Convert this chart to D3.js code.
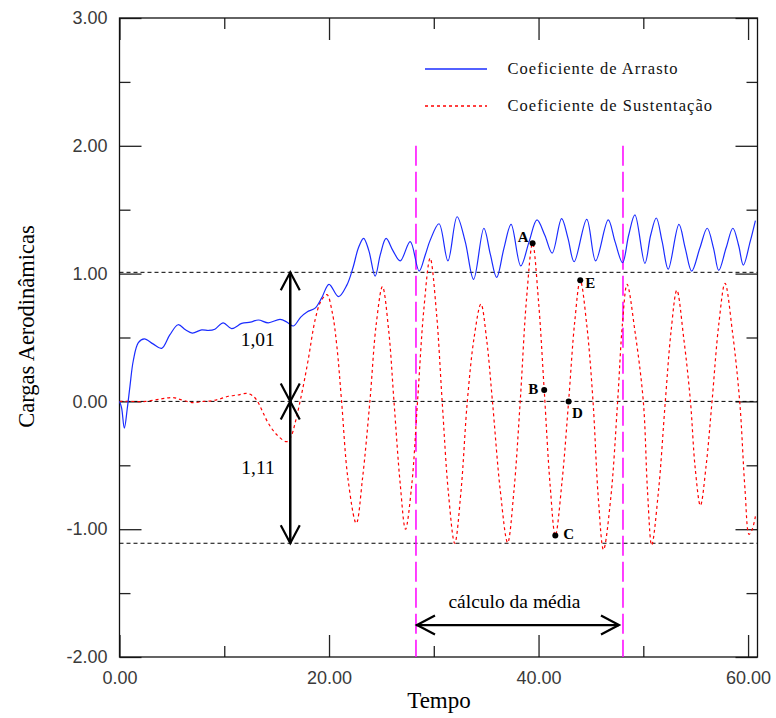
<!DOCTYPE html>
<html>
<head>
<meta charset="utf-8">
<script src="https://cdn.jsdelivr.net/npm/d3@7"></script>
<style>
  html, body { margin: 0; padding: 0; background: #fff; }
  svg { display: block; }
</style>
</head>
<body>
<svg id="chart" width="776" height="718"></svg>
<script>
// ---------- DATA ----------
const dragTime = [0, 0.2, 0.46, 0.75, 1.0, 1.32, 1.8, 2.37, 3.2, 4.03, 4.8, 5.6, 6.3, 6.95, 7.85, 8.5, 9.1, 9.9, 10.7, 11.67, 12.5, 13.26, 14.2, 15.33, 16.0, 16.6, 17.3, 17.9, 18.67, 19.3, 20.0, 20.9, 21.7, 22.3, 22.8, 23.3, 23.8, 24.4, 24.9, 25.45, 26.1, 26.8, 27.75, 28.6, 29.2, 29.65, 30.5, 31.35, 32.22, 33.0, 33.8, 34.78, 35.4, 36.0, 36.7, 37.38, 38.3, 39.1, 39.85, 40.6, 41.3, 42.2, 42.8, 43.4, 44.6, 45.45, 46.65, 47.3, 48.02, 48.6, 49.2, 50.15, 50.7, 51.24, 51.8, 52.38, 53.4, 54.0, 54.62, 55.4, 56.1, 56.7, 57.2, 57.9, 58.55, 59.1, 59.55, 60.2, 60.7];
const dragValue = [0, -0.05, -0.21, -0.05, 0.12, 0.32, 0.46, 0.49, 0.45, 0.415, 0.52, 0.60, 0.56, 0.535, 0.56, 0.555, 0.565, 0.615, 0.57, 0.61, 0.62, 0.637, 0.615, 0.642, 0.62, 0.59, 0.66, 0.70, 0.73, 0.81, 0.916, 0.82, 0.91, 1.05, 1.20, 1.276, 1.18, 0.98, 1.15, 1.275, 1.18, 1.10, 1.25, 1.02, 1.15, 1.26, 1.39, 1.10, 1.445, 1.25, 0.955, 1.355, 1.15, 0.97, 1.20, 1.385, 1.06, 1.25, 1.42, 1.30, 1.16, 1.43, 1.28, 1.093, 1.425, 1.10, 1.42, 1.25, 1.085, 1.30, 1.46, 1.08, 1.30, 1.435, 1.25, 1.035, 1.385, 1.20, 1.02, 1.20, 1.355, 1.20, 1.025, 1.20, 1.355, 1.22, 1.067, 1.25, 1.415];

const liftTime = [0, 1.0, 2.5, 4.0, 5.1, 6.0, 7.05, 8.0, 8.8, 9.6, 10.4, 11.3, 12.15, 12.7, 13.1, 13.6, 14.2, 15.0, 15.97, 16.4, 16.76, 17.4, 18.0, 18.67, 19.2, 19.8, 20.3, 20.75, 21.2, 21.8, 22.6, 23.2, 23.9, 24.5, 25.1, 25.7, 26.2, 26.8, 27.3, 27.9, 28.45, 29.05, 29.65, 30.25, 30.8, 31.4, 32.0, 32.6, 33.2, 33.85, 34.5, 35.05, 35.6, 36.35, 37.05, 37.65, 38.25, 38.85, 39.43, 40.0, 40.54, 41.1, 41.6, 42.25, 42.87, 43.45, 43.98, 44.6, 45.2, 45.7, 46.2, 46.9, 47.55, 48.0, 48.45, 49.2, 50.0, 50.4, 50.8, 51.45, 52.1, 52.65, 53.2, 53.85, 54.5, 54.95, 55.45, 56.0, 56.56, 57.2, 57.8, 58.5, 59.2, 59.7, 60.1, 60.4, 60.7];
const liftValue = [0, 0.0, 0.0, 0.02, 0.03, 0.01, -0.01, 0.0, 0.005, 0.02, 0.04, 0.05, 0.063, 0.045, 0.01, -0.07, -0.17, -0.26, -0.315, -0.27, -0.17, 0.063, 0.32, 0.637, 0.78, 0.835, 0.70, 0.43, 0.0, -0.60, -0.954, -0.60, 0.0, 0.60, 0.898, 0.55, 0.0, -0.65, -1.0, -0.65, 0.0, 0.72, 1.12, 0.70, 0.0, -0.72, -1.11, -0.70, 0.0, 0.50, 0.762, 0.48, 0.0, -0.70, -1.105, -0.70, 0.0, 0.80, 1.237, 0.78, 0.089, -0.65, -1.05, -0.62, 0.0, 0.62, 0.947, 0.60, 0.0, -0.75, -1.16, -0.75, 0.0, 0.60, 0.916, 0.55, 0.0, -0.70, -1.125, -0.70, 0.0, 0.55, 0.87, 0.50, 0.0, -0.52, -0.815, -0.50, 0.0, 0.60, 0.924, 0.55, 0.0, -0.68, -1.04, -1.0, -0.9];

const xMajorTicks = [0, 20, 40, 60];
const xMinorTicks = [10, 30, 50];
const yMajorTicks = [-2, -1, 0, 1, 2, 3];
const yMinorTicks = [-1.5, -0.5, 0.5, 1.5, 2.5];

const seriesNames = ["Coeficiente de Arrasto", "Coeficiente de Sustentação"];
const refLevels = [1.01, 0, -1.11];
const amplitudeLabels = ["1,01", "1,11"];
const amplitudeTime = 16.3;
const meanWindow = [28.3, 48.06];
const meanLabel = "cálculo da média";
const meanArrowLevel = -1.75;
const markPoints = [
  {name: "A", t: 39.43, v: 1.237},
  {name: "B", t: 40.54, v: 0.089},
  {name: "C", t: 41.6, v: -1.05},
  {name: "D", t: 42.87, v: 0.0},
  {name: "E", t: 43.98, v: 0.947}
];
const xTitle = "Tempo";
const yTitle = "Cargas Aerodinâmicas";

// ---------- SCALES ----------
const L = 119.5, R = 757.5, T = 18, B = 657;
const x = d3.scaleLinear().domain([0, 60.9]).range([L, R]);
const y = d3.scaleLinear().domain([-2, 3]).range([B, T]);

const svg = d3.select("#chart");
const fmt = d => d.toFixed(2);
const tickFont = "'Liberation Sans', Arial, sans-serif";
const serif = "'Liberation Serif', 'Times New Roman', serif";

// ---------- AXES ----------
function styleAxis(g) {
  g.select(".domain").remove();
  g.selectAll(".tick line").attr("stroke", "#222").attr("stroke-width", 1.3);
  g.selectAll(".tick text").attr("fill", "#3a3a3a").style("font-family", tickFont).style("font-size", "18px");
}
svg.append("g").attr("transform", `translate(0,${B})`)
  .call(d3.axisBottom(x).tickValues(xMajorTicks).tickSize(-22).tickPadding(14).tickFormat(fmt)).call(styleAxis);
svg.append("g").attr("transform", `translate(0,${B})`)
  .call(d3.axisBottom(x).tickValues(xMinorTicks).tickSize(-11).tickFormat("")).call(styleAxis);
svg.append("g").attr("transform", `translate(0,${T})`)
  .call(d3.axisTop(x).tickValues(xMajorTicks).tickSize(-22).tickFormat("")).call(styleAxis);
svg.append("g").attr("transform", `translate(0,${T})`)
  .call(d3.axisTop(x).tickValues(xMinorTicks).tickSize(-11).tickFormat("")).call(styleAxis);
svg.append("g").attr("transform", `translate(${L},0)`)
  .call(d3.axisLeft(y).tickValues(yMajorTicks).tickSize(-22).tickPadding(12).tickFormat(fmt)).call(styleAxis);
svg.append("g").attr("transform", `translate(${L},0)`)
  .call(d3.axisLeft(y).tickValues(yMinorTicks).tickSize(-11).tickFormat("")).call(styleAxis);
svg.append("g").attr("transform", `translate(${R},0)`)
  .call(d3.axisRight(y).tickValues(yMajorTicks).tickSize(-22).tickFormat("")).call(styleAxis);
svg.append("g").attr("transform", `translate(${R},0)`)
  .call(d3.axisRight(y).tickValues(yMinorTicks).tickSize(-11).tickFormat("")).call(styleAxis);

svg.append("rect").attr("x", L).attr("y", T).attr("width", R - L).attr("height", B - T)
  .attr("fill", "none").attr("stroke", "#111").attr("stroke-width", 1.3);

// ---------- REFERENCE LINES ----------
svg.append("g").selectAll("line").data(refLevels).join("line")
  .attr("x1", L).attr("x2", R).attr("y1", d => y(d)).attr("y2", d => y(d))
  .attr("stroke", "#000").attr("stroke-width", 1).attr("stroke-dasharray", "4,3");

svg.append("g").selectAll("line").data(meanWindow).join("line")
  .attr("x1", d => x(d)).attr("x2", d => x(d)).attr("y1", y(2)).attr("y2", B)
  .attr("stroke", "#ff00ff").attr("stroke-width", 1.5).attr("stroke-dasharray", "20,6");

// ---------- SERIES ----------
const line = d3.line().x(d => x(d[0])).y(d => y(d[1])).curve(d3.curveCatmullRom.alpha(0.5));
const liftData = liftTime.map((t, i) => [t, liftValue[i]]);
const dragData = dragTime.map((t, i) => [t, dragValue[i]]);

svg.append("path").datum(liftData).attr("d", line)
  .attr("fill", "none").attr("stroke", "#ff0000").attr("stroke-width", 1.2).attr("stroke-dasharray", "3,3");
svg.append("path").datum(dragData).attr("d", line)
  .attr("fill", "none").attr("stroke", "#1a2cff").attr("stroke-width", 1.2);

// ---------- LEGEND ----------
const legendRows = [
  {name: seriesNames[0], color: "#1a2cff", dash: null, ly: 69, ty: 74, len: 170},
  {name: seriesNames[1], color: "#ff0000", dash: "3,3", ly: 106, ty: 110.5, len: 204.5}
];
const lg = svg.append("g");
legendRows.forEach(r => {
  lg.append("line").attr("x1", 425).attr("x2", 487).attr("y1", r.ly).attr("y2", r.ly)
    .attr("stroke", r.color).attr("stroke-width", 1.3).attr("stroke-dasharray", r.dash);
  lg.append("text").attr("x", 507.5).attr("y", r.ty).text(r.name)
    .attr("textLength", r.len).attr("lengthAdjust", "spacing")
    .style("font-family", serif).style("font-size", "16.5px").attr("fill", "#111");
});

// ---------- ANNOTATIONS ----------
function chevron(g, tipX, tipY, dir) {
  const Lh = 18, W = 9.5;
  let p;
  if (dir === "up") p = [[tipX - W, tipY + Lh], [tipX, tipY], [tipX + W, tipY + Lh]];
  if (dir === "down") p = [[tipX - W, tipY - Lh], [tipX, tipY], [tipX + W, tipY - Lh]];
  if (dir === "left") p = [[tipX + Lh, tipY - W], [tipX, tipY], [tipX + Lh, tipY + W]];
  if (dir === "right") p = [[tipX - Lh, tipY - W], [tipX, tipY], [tipX - Lh, tipY + W]];
  g.append("path").attr("d", d3.line()(p)).attr("fill", "none").attr("stroke", "#000").attr("stroke-width", 2.2);
}
const ag = svg.append("g");
const ax = x(amplitudeTime);
ag.append("line").attr("x1", ax).attr("x2", ax).attr("y1", y(refLevels[0])).attr("y2", y(refLevels[2]))
  .attr("stroke", "#000").attr("stroke-width", 2.5);
chevron(ag, ax, y(refLevels[0]), "up");
chevron(ag, ax, y(refLevels[1]), "down");
chevron(ag, ax, y(refLevels[1]), "up");
chevron(ag, ax, y(refLevels[2]), "down");
ag.append("text").attr("x", ax - 15.5).attr("y", 346).attr("text-anchor", "end").text(amplitudeLabels[0])
  .style("font-family", serif).style("font-size", "19.5px").attr("fill", "#000");
ag.append("text").attr("x", ax - 15.5).attr("y", 474).attr("text-anchor", "end").text(amplitudeLabels[1])
  .style("font-family", serif).style("font-size", "19.5px").attr("fill", "#000");

const my = y(meanArrowLevel);
ag.append("line").attr("x1", x(meanWindow[0])).attr("x2", x(meanWindow[1]) - 4).attr("y1", my).attr("y2", my)
  .attr("stroke", "#000").attr("stroke-width", 2.2);
chevron(ag, x(meanWindow[0]) + 1, my, "left");
chevron(ag, x(meanWindow[1]) - 4, my, "right");
ag.append("text").attr("x", (x(meanWindow[0]) + x(meanWindow[1])) / 2 - 5).attr("y", my - 17)
  .attr("text-anchor", "middle").text(meanLabel)
  .style("font-family", serif).style("font-size", "19.5px").attr("fill", "#000");

// points
const labelOffsets = {A: [-4, -1, "end"], B: [-6, 3.5, "end"], C: [8, 3.5, "start"], D: [3.5, 17, "start"], E: [5, 8, "start"]};
const pg = svg.append("g");
pg.selectAll("circle").data(markPoints).join("circle")
  .attr("cx", d => x(d.t)).attr("cy", d => y(d.v)).attr("r", 3).attr("fill", "#000");
pg.selectAll("text").data(markPoints).join("text")
  .attr("x", d => x(d.t) + labelOffsets[d.name][0]).attr("y", d => y(d.v) + labelOffsets[d.name][1])
  .attr("text-anchor", d => labelOffsets[d.name][2]).text(d => d.name)
  .style("font-family", serif).style("font-size", "15px").style("font-weight", "bold").attr("fill", "#000");

// ---------- TITLES ----------
svg.append("text").attr("x", 439).attr("y", 708).attr("text-anchor", "middle").text(xTitle)
  .style("font-family", serif).style("font-size", "23px").attr("fill", "#000");
svg.append("text").attr("transform", "translate(34,326.5) rotate(-90)").attr("text-anchor", "middle").text(yTitle)
  .style("font-family", serif).style("font-size", "22.5px").attr("fill", "#000");
</script>
</body>
</html>
